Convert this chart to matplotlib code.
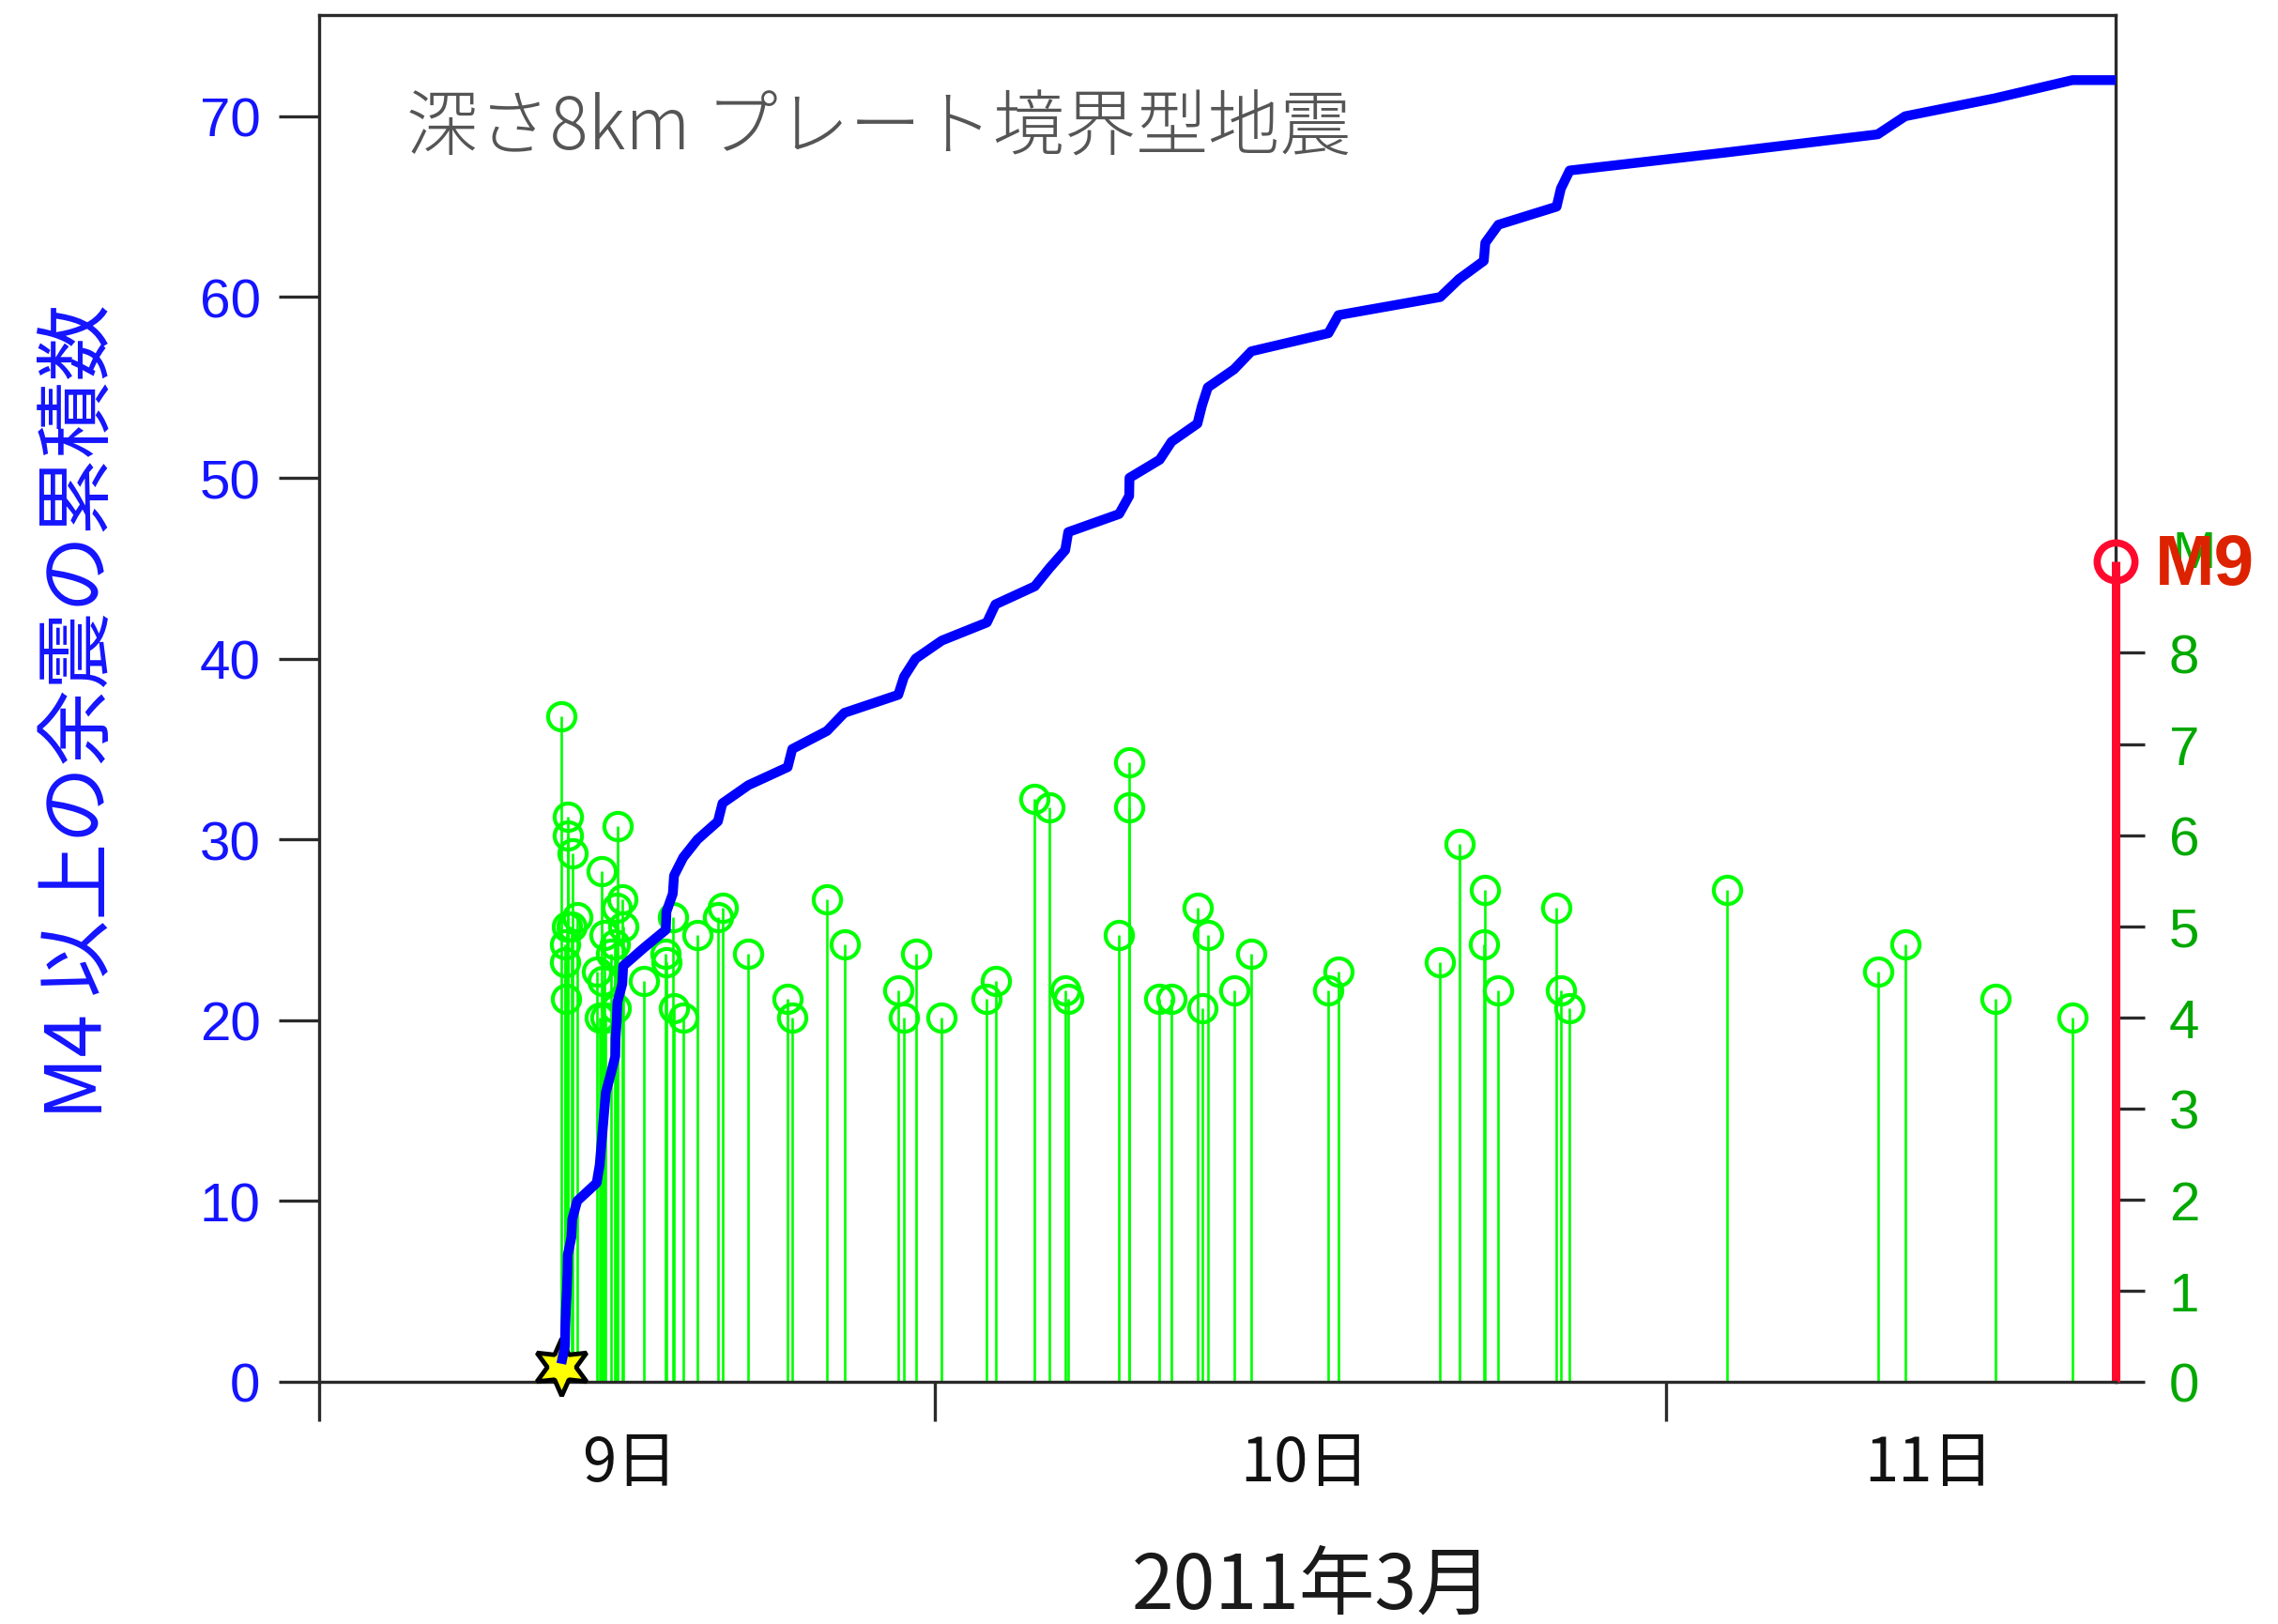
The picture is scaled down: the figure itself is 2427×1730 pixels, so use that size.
import matplotlib
matplotlib.use("Agg")
import matplotlib.pyplot as plt
import numpy as np

plt.rcParams['font.family'] = ['Noto Sans CJK JP', 'DejaVu Sans']

# Aftershocks (M>=4) after the M7.3 event: hours since 2011-03-09 00:00 JST and magnitude
event_hours = [
    11.75, 11.87, 11.88, 11.90, 11.93, 11.95, 11.96, 12.08, 12.11, 12.27,
    12.91, 13.01, 13.06, 13.11, 13.16, 13.21, 13.37, 13.52, 13.53, 13.57,
    13.59, 13.75, 13.78, 14.46, 15.18, 15.20, 15.41, 15.45, 15.75, 16.22,
    16.89, 17.04, 17.89, 19.18, 19.33, 20.47, 21.04, 22.81, 23.00, 23.38,
    24.24, 25.72, 26.00, 27.29, 27.77, 28.29, 28.39, 30.06, 30.39, 30.40,
    31.39, 31.78, 32.63, 32.78, 32.97, 33.83, 34.40, 36.93, 37.26, 40.60,
    41.22, 42.03, 42.08, 42.51, 44.42, 44.56, 44.85, 50.00, 54.96, 55.86,
    58.82, 61.35,
]
event_mags = [
    7.3, 4.8, 4.6, 4.2, 5.0, 6.2, 6.0, 5.0, 5.8, 5.1,
    4.5, 4.0, 5.6, 4.4, 4.9, 4.0, 4.7, 4.8, 4.1, 5.2,
    6.1, 5.3, 5.0, 4.4, 4.7, 4.6, 5.1, 4.1, 4.0, 4.9,
    5.1, 5.2, 4.7, 4.2, 4.0, 5.3, 4.8, 4.3, 4.0, 4.7,
    4.0, 4.2, 4.4, 6.4, 6.3, 4.3, 4.2, 4.9, 6.8, 6.3,
    4.2, 4.2, 5.2, 4.1, 4.9, 4.3, 4.7, 4.3, 4.5, 4.6,
    5.9, 4.8, 5.4, 4.3, 5.2, 4.3, 4.1, 5.4, 4.5, 4.8,
    4.2, 4.0,
]

foreshock_hour = 11.75          # M7.3, 9 March 11:45
mainshock_hour = 62.77          # M9.0, 11 March 14:46
mainshock_mag = 9.0
x_start = 3.8

day_tick_hours = [x_start, 24, 48]
day_labels = ['9日', '10日', '11日']
day_label_hours = [13.98, 36.14, 56.63]
count_ticks = list(range(0, 71, 10))
mag_ticks = list(range(0, 9))

W, H = 2427, 1731
fig = plt.figure(figsize=(W / 100, H / 100), dpi=100)
ax = fig.add_axes([340 / W, 1 - 1473 / H, (2254 - 340) / W, (1473 - 17) / H])
ax2 = ax.twinx()
ax.set_zorder(ax2.get_zorder() + 1)
ax.patch.set_visible(False)

spine_col = '#2a2a2a'
for s in ax.spines.values():
    s.set_color(spine_col)
    s.set_linewidth(2.4)
ax.spines['right'].set_visible(False)
for name, s in ax2.spines.items():
    s.set_visible(name == 'right')
    s.set_color(spine_col)
    s.set_linewidth(2.4)

# magnitude stems
ax2.vlines(event_hours, 0, event_mags, color='#00ff00', lw=1.9, zorder=2)
ax2.plot(event_hours, event_mags, 'o', mfc='none', mec='#00ff00',
         ms=21, mew=3.0, zorder=3)

# main shock at the right edge
ax2.plot([mainshock_hour, mainshock_hour], [0, mainshock_mag], color='#ff0a2e',
         lw=6.5, clip_on=False, zorder=4, solid_capstyle='butt')
ax2.plot([mainshock_hour], [mainshock_mag], 'o', mfc='none', mec='#ff0a2e',
         ms=29, mew=5.5, clip_on=False, zorder=5)

# cumulative count
cum = np.arange(1, len(event_hours) + 1)
line_x = list(event_hours) + [mainshock_hour]
line_y = list(cum) + [cum[-1]]
ax.plot([foreshock_hour], [0.85], marker=(6, 1, 0), ms=44, mfc='#ffff00',
        mec='black', mew=3.5, clip_on=False, zorder=3)
ax.plot(line_x, line_y, color='#0000ff', lw=7.5, solid_joinstyle='round',
        solid_capstyle='butt', zorder=4, clip_on=False)

ax.set_xlim(x_start, mainshock_hour)
ax.set_ylim(0, 75.6)
ax2.set_ylim(0, 15)

ax.set_xticks(day_tick_hours)
ax.set_xticklabels([])
ax.set_yticks(count_ticks)
ax2.set_yticks(mag_ticks)

num_font = ['Liberation Sans', 'DejaVu Sans']
ax.tick_params(axis='x', direction='out', length=30, width=2.4, color=spine_col)
ax.tick_params(axis='y', direction='out', length=31, width=2.4, color=spine_col,
               pad=14, labelsize=42, labelcolor='#1414ff')
ax2.tick_params(axis='y', direction='out', length=22, width=2.4, color=spine_col,
                pad=19, labelsize=42, labelcolor='#00a800')
for lab in ax.get_yticklabels() + ax2.get_yticklabels():
    lab.set_family(num_font)

# day labels under the axis
for h, lab in zip(day_label_hours, day_labels):
    ax.text(h, -0.0598, lab, transform=ax.get_xaxis_transform(), ha='center',
            va='center', fontsize=47, color='#111111')

ax.text(0.5528, -0.149, '2011年3月', transform=ax.transAxes, ha='center',
        va='center', fontsize=58, color='#1a1a1a')

ax.text(-0.133, 0.491, 'M4 以上の余震の累積数', transform=ax.transAxes,
        rotation=90, ha='center', va='center', fontsize=59, color='#1414ff')

ax.text(0.0486, 0.917, '深さ8km プレート境界型地震', transform=ax.transAxes,
        ha='left', va='center', fontsize=55, fontweight='light', color='#555555')

# right axis name and the main shock label
ax2.text(1.0434, 0.6058, 'M', transform=ax2.transAxes, ha='center', va='center',
         fontsize=40, color='#00b000', family=num_font, zorder=6)
ax2.text(1.022, 0.597, 'M9', transform=ax2.transAxes, ha='left',
         va='center', fontsize=55, fontweight='bold', color='#dd2200',
         family=num_font, zorder=7)

fig.savefig('out.png', dpi=100, facecolor='white')
